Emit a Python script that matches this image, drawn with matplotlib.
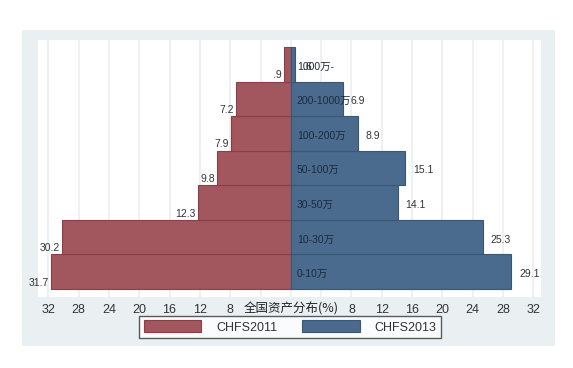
import matplotlib
matplotlib.use("Agg")
import matplotlib.pyplot as plt
from matplotlib.patches import Rectangle

plt.rcParams['font.family'] = ['Liberation Sans', 'Noto Sans CJK SC', 'DejaVu Sans']

categories = ['0-10万', '10-30万', '30-50万', '50-100万', '100-200万', '200-1000万', '1000万-']
chfs2011 = [31.7, 30.2, 12.3, 9.8, 7.9, 7.2, 0.9]
chfs2013 = [29.1, 25.3, 14.1, 15.1, 8.9, 6.9, 0.6]
series_names = ['CHFS2011', 'CHFS2013']
tick_values = [-32, -28, -24, -20, -16, -12, -8, 8, 12, 16, 20, 24, 28, 32]
grid_minor = [-4, 0, 4]
xlabel = '全国资产分布(%)'

RED = '#A2565D'
RED_EDGE = '#8A3E47'
BLUE = '#4A6B8E'
BLUE_EDGE = '#385776'
BG = '#EAF0F1'

W, H = 573, 368
fig = plt.figure(figsize=(W / 100, H / 100), dpi=100)
fig.patch.set_facecolor('white')

def fx(px):
    return px / W

def fy(py):
    return 1 - py / H

# outer Stata-like background
fig.add_artist(Rectangle((fx(22), fy(346)), fx(555) - fx(22), fy(30) - fy(346),
                         transform=fig.transFigure, facecolor=BG, edgecolor='none', zorder=0))

ax = fig.add_axes([fx(38), fy(297), fx(541) - fx(38), fy(40) - fy(297)])
ax.set_facecolor('white')

y = list(range(len(categories)))
neg2011 = [-v for v in chfs2011]
ax.barh(y, neg2011, height=1.0, color=RED, edgecolor=RED_EDGE, linewidth=0.8, zorder=3,
        label=series_names[0])
ax.barh(y, chfs2013, height=1.0, color=BLUE, edgecolor=BLUE_EDGE, linewidth=0.8, zorder=3,
        label=series_names[1])

def fmt(v):
    s = f"{v:.1f}"
    return s[1:] if s.startswith('0') else s

for i, (a, b, c) in enumerate(zip(chfs2011, chfs2013, categories)):
    ax.text(-a - 0.25, i - 0.32, fmt(a), ha='right', va='center', fontsize=7.5,
            color='#333333', zorder=5)
    ax.text(b + 1.0, i - 0.07, fmt(b), ha='left', va='center', fontsize=7.5,
            color='#333333', zorder=5)
    ax.text(0.8, i - 0.07, c, ha='left', va='center', fontsize=7.5,
            color='#1C2A3C', zorder=6)

ax.set_xlim(-33.35, 33.0)
ax.set_ylim(-0.73, 6.7)
ax.set_yticks([])
ax.set_xticks(tick_values)
ax.set_xticklabels([str(abs(t)) for t in tick_values], fontsize=9, color='#333333')
ax.set_xticks(grid_minor, minor=True)
ax.tick_params(axis='x', which='both', length=0, pad=5)
ax.grid(axis='x', which='both', color='#EDF1F2', linewidth=1.5, zorder=0)
for s in ax.spines.values():
    s.set_visible(False)

ax.text(0, -0.73, xlabel, transform=ax.transData, ha='center', va='top',
        fontsize=9, color='#222222', family=['Noto Sans CJK SC', 'DejaVu Sans'])
# align title to tick label row
ax.texts[-1].set_y(-0.73 - 5 / 34.6)

leg = fig.legend(loc='center', bbox_to_anchor=(fx(290), fy(327)), ncol=2,
                 fontsize=9, frameon=True, fancybox=False,
                 handlelength=4.6, handleheight=1.1, handletextpad=1.2,
                 columnspacing=2.0, borderpad=0.35)
leg.get_frame().set_edgecolor('#333333')
leg.get_frame().set_linewidth(1.0)
leg.get_frame().set_facecolor('white')
for t in leg.get_texts():
    t.set_color('#333333')

fig.savefig('out.png', dpi=100, facecolor='white')
